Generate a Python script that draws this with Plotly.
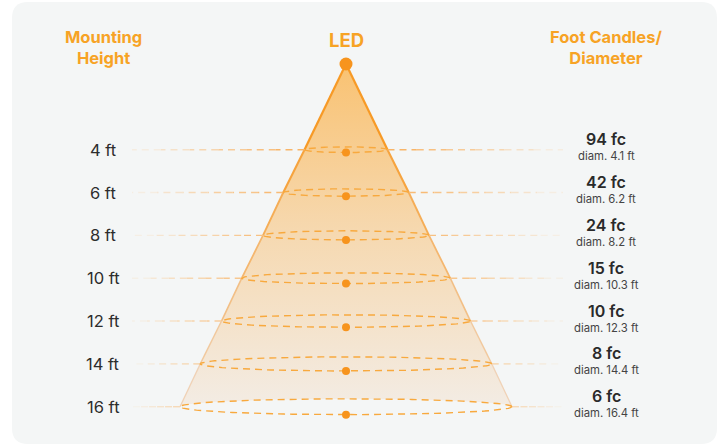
import plotly.graph_objects as go
import numpy as np

# ---- data ----
heights = [4, 6, 8, 10, 12, 14, 16]            # mounting height (ft)
foot_candles = [94, 42, 24, 15, 10, 8, 6]      # fc
diameters = [4.1, 6.2, 8.2, 10.3, 12.3, 14.4, 16.4]  # beam diameter (ft)
height_labels = [f"{h} ft" for h in heights]
fc_labels = [f"{v} fc" for v in foot_candles]
diam_labels = [f"diam. {d} ft" for d in diameters]

# ---- style / layout constants ----
W, H = 720, 446
CX, APEX_Y = 346, 64          # pixel position of LED
PX_X, PX_Y = 20.24, 21.42      # pixels per ft
XR = [-CX / PX_X, (W - CX) / PX_X]
YR = [(H - APEX_Y) / PX_Y, -APEX_Y / PX_Y]
LEFT_END = (132 - CX) / PX_X
RIGHT_END = (563 - CX) / PX_X
LABEL_L = (103 - CX) / PX_X
LABEL_R = (606 - CX) / PX_X
ORANGE = "#f7a325"
DOT = "#f7941d"
BG = "#f4f6f6"


def ry_of(h):
    return (1.2 + 0.42 * h) / PX_Y


def mix(c1, c2, t):
    a = [int(c1[i:i + 2], 16) for i in (1, 3, 5)]
    b = [int(c2[i:i + 2], 16) for i in (1, 3, 5)]
    return "#%02x%02x%02x" % tuple(round(a[k] + (b[k] - a[k]) * t) for k in range(3))


fig = go.Figure()

# cone fill (bottom follows back arc of last ellipse)
hl, dl = heights[-1], diameters[-1]
t = np.linspace(0, np.pi, 60)
back_x = (dl / 2) * np.cos(t)
back_y = hl - ry_of(hl) * np.sin(t)
cx = [0] + [d / 2 for d in diameters] + list(back_x) + [-d / 2 for d in diameters[::-1]] + [0]
cy = [0] + heights + list(back_y) + heights[::-1] + [0]
fig.add_trace(go.Scatter(
    x=cx, y=cy, mode="lines", fill="toself", line=dict(width=0),
    fillgradient=dict(type="vertical", start=0, stop=16,
                      colorscale=[[0, "#f9c272"], [0.5, "#f6d9b1"], [1, "#f3ece4"]]),
    hoverinfo="skip", showlegend=False))

# cone edges with fading colour
pts_h = [0] + heights
pts_d = [0] + diameters
n = len(pts_h) - 1
for side in (-1, 1):
    for i in range(n):
        tt = i / (n - 1)
        fig.add_trace(go.Scatter(
            x=[side * pts_d[i] / 2, side * pts_d[i + 1] / 2],
            y=[pts_h[i], pts_h[i + 1]], mode="lines",
            line=dict(color=mix("#f79a26", "#f0d2b6", tt), width=2.2 - 0.9 * tt),
            hoverinfo="skip", showlegend=False))

# horizontal fading dashed guide lines
NSEG = 6
for k, (h, d) in enumerate(zip(heights, diameters)):
    strength = 1 - k / (len(heights) - 1) * 0.55
    for side, end in ((-1, LEFT_END), (1, RIGHT_END)):
        x0 = side * d / 2
        xs = np.linspace(x0, end, NSEG + 1)
        for s in range(NSEG):
            f = s / (NSEG - 1)
            col = mix(BG, "#f9aa50", strength * (0.85 - 0.72 * f))
            fig.add_trace(go.Scatter(
                x=[xs[s], xs[s + 1]], y=[h, h], mode="lines",
                line=dict(color=col, width=1.4, dash="7px,5px"),
                hoverinfo="skip", showlegend=False))

# ellipses (beam circles)
te = np.linspace(0, 2 * np.pi, 120)
for h, d in zip(heights, diameters):
    r = ry_of(h)
    fig.add_trace(go.Scatter(
        x=(d / 2) * np.cos(te), y=h - r * np.sin(te), mode="lines",
        line=dict(color="#f8a93e", width=1.4, dash="7px,5px"),
        hoverinfo="skip", showlegend=False))

# dots on each circle
fig.add_trace(go.Scatter(
    x=[0] * len(heights), y=[h + ry_of(h) for h in heights], mode="markers",
    marker=dict(color=DOT, size=8), hoverinfo="skip", showlegend=False))

# LED dot
fig.add_trace(go.Scatter(x=[0], y=[0], mode="markers",
                         marker=dict(color=DOT, size=13),
                         hoverinfo="skip", showlegend=False))

# text
ann = []
for h, lab, fcl, dml in zip(heights, height_labels, fc_labels, diam_labels):
    ann.append(dict(x=LABEL_L, y=h, text=lab, showarrow=False, xanchor="center", yanchor="middle",
                    font=dict(family="Inter", size=16.5, color="#2d2d2d")))
    ann.append(dict(x=LABEL_R, y=h, text=fcl, showarrow=False, xanchor="center", yanchor="middle",
                    yshift=10.5, borderpad=0,
                    font=dict(family="Inter", size=16, color="#2a2a2a", weight=600)))
    ann.append(dict(x=LABEL_R, y=h, text=dml, showarrow=False, xanchor="center", yanchor="middle",
                    yshift=-6.5, borderpad=0,
                    font=dict(family="Inter", size=11.3, color="#444444")))

title_font = dict(family="Inter", size=16.5, color=ORANGE, weight=700)
ann.append(dict(x=LABEL_L, y=(47 - APEX_Y) / PX_Y, text="Mounting<br>Height", showarrow=False,
                xanchor="center", yanchor="middle", font=title_font))
ann.append(dict(x=LABEL_R, y=(47 - APEX_Y) / PX_Y, text="Foot Candles/<br>Diameter", showarrow=False,
                xanchor="center", yanchor="middle", font=title_font))
ann.append(dict(x=0, y=(39.5 - APEX_Y) / PX_Y, text="LED", showarrow=False,
                xanchor="center", yanchor="middle",
                font=dict(family="Inter", size=18.5, color=ORANGE, weight=700)))

# rounded background panel (paper coords)
x0, x1 = 12 / W, 717 / W
y0, y1 = 1 - 444 / H, 1 - 2 / H
rx, ryp = 16 / W, 16 / H
path = (f"M {x0+rx},{y1} L {x1-rx},{y1} Q {x1},{y1} {x1},{y1-ryp} "
        f"L {x1},{y0+ryp} Q {x1},{y0} {x1-rx},{y0} L {x0+rx},{y0} "
        f"Q {x0},{y0} {x0},{y0+ryp} L {x0},{y1-ryp} Q {x0},{y1} {x0+rx},{y1} Z")

fig.update_layout(
    width=W, height=H, margin=dict(l=0, r=0, t=0, b=0),
    paper_bgcolor="white", plot_bgcolor="rgba(0,0,0,0)",
    xaxis=dict(range=XR, visible=False, fixedrange=True),
    yaxis=dict(range=YR, visible=False, fixedrange=True),
    shapes=[dict(type="path", path=path, xref="paper", yref="paper",
                 fillcolor=BG, line=dict(width=0), layer="below")],
    annotations=ann,
)

fig.write_html("out.html", config={"displayModeBar": False},
               post_script="document.body.style.margin='0';document.body.style.overflow='hidden';")
